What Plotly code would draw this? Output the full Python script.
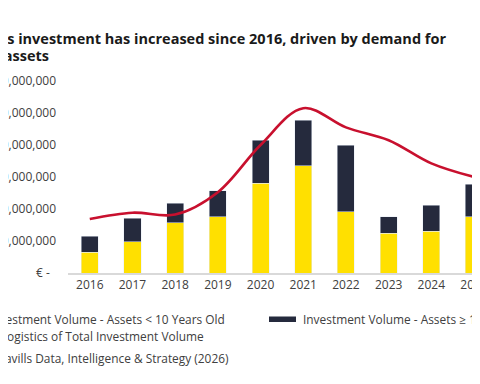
import plotly.graph_objects as go

# ---- data ----
years = [2016, 2017, 2018, 2019, 2020, 2021, 2022, 2023, 2024, 2025]
vol_newer = [647e6, 978e6, 1572e6, 1759e6, 2803e6, 3344e6, 1916e6, 1241e6, 1312e6, 1759e6]
vol_older = [509e6, 731e6, 606e6, 813e6, 1353e6, 1437e6, 2084e6, 518e6, 813e6, 1022e6]
share_logistics = [0.0675, 0.0754, 0.073, 0.101, 0.160, 0.206, 0.182, 0.166, 0.137, 0.120]

y_tickvals = [0, 1e9, 2e9, 3e9, 4e9, 5e9, 6e9]
y_ticktext = ["€ -\u00a0\u00a0", "€ 1,000,000,000", "€ 2,000,000,000", "€ 3,000,000,000",
              "€ 4,000,000,000", "€ 5,000,000,000", "€ 6,000,000,000"]

title_l1 = "Logistics investment has increased since 2016, driven by demand for"
title_l2 = "modern assets"
name_newer = "Investment Volume - Assets < 10 Years Old"
name_older = "Investment Volume - Assets ≥ 10 Years Old"
name_share = "% Logistics of Total Investment Volume"
source = "Source: Savills Data, Intelligence & Strategy (2026)"

YELLOW = "#FFE000"
NAVY = "#252A3D"
RED = "#C8102E"
TXT = "#404040"
FONT = "Open Sans"

OFF = 8  # page body margin
W, H = 480 - OFF, 384 - OFF
ML, MR, MT, MB = 68 - OFF, 0, 65 - OFF, 384 - 273
PW, PH = W - ML - MR, H - MT - MB


def px(x):
    return (x - OFF - ML) / PW


def py(y):
    return (H - MB - (y - OFF)) / PH


fig = go.Figure()
fig.add_trace(go.Bar(x=years, y=vol_newer, name=name_newer, marker_color=YELLOW,
                     width=0.4, showlegend=False))
fig.add_trace(go.Bar(x=years, y=vol_older, name=name_older, marker_color=NAVY,
                     width=0.4, showlegend=False))
fig.add_trace(go.Scatter(x=years, y=share_logistics, name=name_share, yaxis="y2",
                         mode="lines", line=dict(color=RED, width=2.6, shape="spline", smoothing=1.0),
                         showlegend=False, cliponaxis=True))

fig.update_layout(
    width=W, height=H,
    margin=dict(l=ML, r=MR, t=MT, b=MB, pad=0),
    barmode="stack",
    plot_bgcolor="white", paper_bgcolor="white",
    font=dict(family=FONT, size=12, color=TXT),
    xaxis=dict(range=[2015.49, 2025.14], tickmode="array", tickvals=years,
               ticktext=[str(y) for y in years], showgrid=False, zeroline=False,
               showline=True, linecolor="#D9D9D9", linewidth=1.5, ticks="",
               ticklabeloverflow="allow",
               tickfont=dict(size=12, color=TXT), automargin=False),
    yaxis=dict(range=[0, 6.5e9], tickmode="array", tickvals=y_tickvals, ticktext=y_ticktext,
               showgrid=False, zeroline=False, showline=False, ticks="",
               ticklabelstandoff=11, ticklabeloverflow="allow",
               tickfont=dict(size=12, color=TXT), automargin=False),
    yaxis2=dict(range=[0, 0.26], overlaying="y", side="right", showgrid=False,
                zeroline=False, tickformat=".0%", automargin=False, ticks="",
                showticklabels=False),
)

annotations = [
    dict(text="<b>" + title_l1 + "</b>", x=px(448), y=py(38), xanchor="right", yanchor="middle",
         font=dict(size=14.5, color="#1A1A1A")),
    dict(text="<b>" + title_l2 + "</b>", x=px(51), y=py(56), xanchor="right", yanchor="middle",
         font=dict(size=14.5, color="#1A1A1A")),
    dict(text=name_newer, x=px(227), y=py(319), xanchor="right", yanchor="middle",
         font=dict(size=11.9, color=TXT)),
    dict(text=name_older, x=px(301), y=py(319), xanchor="left", yanchor="middle",
         font=dict(size=11.9, color=TXT)),
    dict(text=name_share, x=px(206), y=py(336), xanchor="right", yanchor="middle",
         font=dict(size=11.9, color=TXT)),
    dict(text=source, x=px(231), y=py(358), xanchor="right", yanchor="middle",
         font=dict(size=11.9, color=TXT)),
]
for a in annotations:
    a.update(xref="paper", yref="paper", showarrow=False)
fig.update_layout(annotations=annotations)

shapes = [
    dict(type="rect", xref="paper", yref="paper", x0=px(269), x1=px(296), y0=py(322), y1=py(316.5),
         fillcolor=NAVY, line=dict(width=0)),
]
fig.update_layout(shapes=shapes)

fig.write_html("out.html")
